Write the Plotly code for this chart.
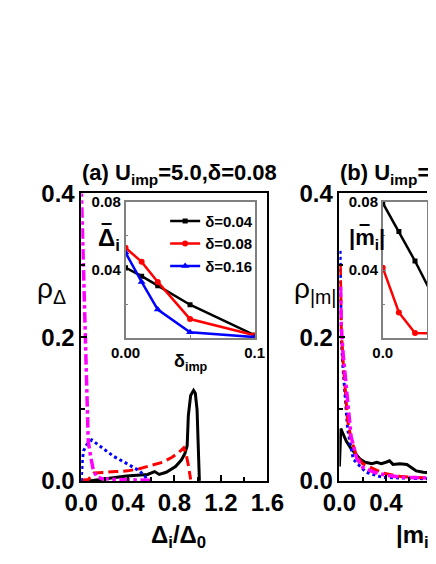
import plotly.graph_objects as go

W, H = 436, 564
FONT = "Liberation Sans, Arial, sans-serif"

# ---- panel (a): distribution of Delta_i/Delta_0 ----
a_black_x = [0.04, 0.07, 0.21, 0.39, 0.57, 0.63, 0.67, 0.73, 0.81, 0.86, 0.89, 0.91, 0.92, 0.94, 0.965, 0.98, 0.995, 1.005, 1.015]
a_black_y = [0.0, 0.0, 0.003, 0.007, 0.009, 0.013, 0.009, 0.012, 0.020, 0.029, 0.038, 0.049, 0.091, 0.119, 0.126, 0.122, 0.099, 0.046, 0.0]

a_red_x = [0.0, 0.06, 0.11, 0.16, 0.2, 0.3, 0.4, 0.5, 0.6, 0.7, 0.78, 0.84, 0.88, 0.9, 0.92, 0.94]
a_red_y = [0.001, 0.002, 0.011, 0.012, 0.012, 0.013, 0.014, 0.017, 0.021, 0.026, 0.033, 0.040, 0.046, 0.038, 0.022, 0.002]

a_blue_x = [0.0, 0.003, 0.01, 0.02, 0.05, 0.09, 0.15, 0.2, 0.28, 0.36, 0.44, 0.5, 0.55, 0.57]
a_blue_y = [0.0, 0.015, 0.030, 0.042, 0.051, 0.057, 0.050, 0.043, 0.034, 0.027, 0.020, 0.014, 0.006, 0.0]

a_mag_x = [0.0, 0.01, 0.02, 0.03, 0.04, 0.05, 0.06, 0.08, 0.1, 0.13, 0.18, 0.3, 0.45, 0.6]
a_mag_y = [0.41, 0.35, 0.28, 0.20, 0.13, 0.08, 0.055, 0.035, 0.018, 0.006, 0.003, 0.002, 0.002, 0.001]

# ---- panel (b): distribution of |m_i| ----
b_black_x = [0.0, 0.012, 0.03, 0.06, 0.1, 0.14, 0.18, 0.22, 0.28, 0.32, 0.36, 0.4, 0.43, 0.46, 0.52, 0.58, 0.62, 0.66, 0.72, 0.8]
b_black_y = [0.02, 0.073, 0.066, 0.055, 0.045, 0.037, 0.030, 0.026, 0.024, 0.026, 0.024, 0.026, 0.028, 0.023, 0.024, 0.023, 0.019, 0.014, 0.012, 0.011]

b_red_x = [0.008, 0.012, 0.016, 0.03, 0.05, 0.07, 0.1, 0.15, 0.2, 0.26, 0.37, 0.53, 0.74, 0.8]
b_red_y = [0.30, 0.26, 0.21, 0.17, 0.126, 0.085, 0.058, 0.034, 0.024, 0.019, 0.011, 0.006, 0.004, 0.004]

b_blue_x = [0.006, 0.01, 0.016, 0.03, 0.05, 0.07, 0.1, 0.12, 0.15, 0.23, 0.37, 0.5, 0.74, 0.8]
b_blue_y = [0.32, 0.28, 0.20, 0.16, 0.118, 0.073, 0.046, 0.030, 0.025, 0.012, 0.005, 0.004, 0.003, 0.003]

b_mag_x = [0.01, 0.015, 0.03, 0.05, 0.07, 0.1, 0.15, 0.2, 0.3, 0.4, 0.55, 0.74, 0.8]
b_mag_y = [0.27, 0.22, 0.18, 0.148, 0.105, 0.062, 0.031, 0.019, 0.012, 0.008, 0.005, 0.004, 0.004]

# ---- insets: mean value vs delta_imp ----
d_imp = [0.0, 0.0125, 0.025, 0.05, 0.1]
gap_d004 = [0.0414, 0.0364, 0.0308, 0.0196, 0.0017]
gap_d008 = [0.0531, 0.0448, 0.0330, 0.0112, 0.0017]
gap_d016 = [0.0503, 0.0330, 0.0168, 0.0034, 0.0006]
mag_d004 = [0.0794, 0.0627, 0.0453, 0.0080, 0.0020]
mag_d008 = [0.0414, 0.0151, 0.0030, 0.0030, 0.0020]

RED_DASH = "10px,5px"

fig = go.Figure()

# main curves, panel (a)
fig.add_trace(go.Scatter(x=a_black_x, y=a_black_y, mode="lines", line=dict(color="black", width=3),
                         showlegend=False, xaxis="x", yaxis="y"))
fig.add_trace(go.Scatter(x=a_red_x, y=a_red_y, mode="lines", line=dict(color="red", width=3, dash=RED_DASH),
                         showlegend=False, xaxis="x", yaxis="y"))
fig.add_trace(go.Scatter(x=a_blue_x, y=a_blue_y, mode="lines", line=dict(color="blue", width=3, dash="dot"),
                         showlegend=False, xaxis="x", yaxis="y"))
fig.add_trace(go.Scatter(x=a_mag_x, y=a_mag_y, mode="lines", line=dict(color="magenta", width=3.5, dash="dashdot"),
                         showlegend=False, xaxis="x", yaxis="y"))

# main curves, panel (b)
fig.add_trace(go.Scatter(x=b_black_x, y=b_black_y, mode="lines", line=dict(color="black", width=3),
                         showlegend=False, xaxis="x2", yaxis="y2"))
fig.add_trace(go.Scatter(x=b_blue_x, y=b_blue_y, mode="lines", line=dict(color="blue", width=3, dash="dot"),
                         showlegend=False, xaxis="x2", yaxis="y2"))
fig.add_trace(go.Scatter(x=b_red_x, y=b_red_y, mode="lines", line=dict(color="red", width=3, dash=RED_DASH),
                         showlegend=False, xaxis="x2", yaxis="y2"))
fig.add_trace(go.Scatter(x=b_mag_x, y=b_mag_y, mode="lines", line=dict(color="magenta", width=3.5, dash="dashdot"),
                         showlegend=False, xaxis="x2", yaxis="y2"))

# inset (a)
fig.add_trace(go.Scatter(x=d_imp, y=gap_d004, mode="lines+markers", name="δ=0.04",
                         line=dict(color="black", width=2.5), marker=dict(symbol="square", size=5, color="black"),
                         xaxis="x3", yaxis="y3"))
fig.add_trace(go.Scatter(x=d_imp, y=gap_d008, mode="lines+markers", name="δ=0.08",
                         line=dict(color="red", width=2.5), marker=dict(symbol="circle", size=6, color="red"),
                         xaxis="x3", yaxis="y3"))
fig.add_trace(go.Scatter(x=d_imp, y=gap_d016, mode="lines+markers", name="δ=0.16",
                         line=dict(color="blue", width=2.5), marker=dict(symbol="triangle-up", size=7, color="blue"),
                         xaxis="x3", yaxis="y3"))

# inset (b)
fig.add_trace(go.Scatter(x=d_imp, y=mag_d004, mode="lines+markers", showlegend=False,
                         line=dict(color="black", width=2.5), marker=dict(symbol="square", size=5, color="black"),
                         xaxis="x4", yaxis="y4"))
fig.add_trace(go.Scatter(x=d_imp, y=mag_d008, mode="lines+markers", showlegend=False,
                         line=dict(color="red", width=2.5), marker=dict(symbol="circle", size=6, color="red"),
                         xaxis="x4", yaxis="y4"))


def px_x(p):
    return p / W


def px_y(p):
    return 1 - p / H


tick_big = dict(family=FONT, size=24, color="black", weight="bold")
tick_small = dict(family=FONT, size=15, color="black", weight="bold")

main_common = dict(showline=True, linecolor="black", linewidth=1.5, ticks="inside", ticklen=6,
                   tickwidth=1.5, tickcolor="black", showgrid=False, zeroline=False, tickfont=tick_big)
inset_common = dict(showline=True, linecolor="#808080", linewidth=1.5, mirror=True, ticks="inside",
                    ticklen=4, tickwidth=1.2, tickcolor="#808080", showgrid=False, zeroline=False,
                    tickfont=tick_small)

ymain = [px_y(482), px_y(180)]
yinset = [px_y(332), px_y(189)]

fig.update_layout(
    width=W, height=H, autosize=False,
    margin=dict(l=0, r=0, t=0, b=0),
    paper_bgcolor="white", plot_bgcolor="white",
    font=dict(family=FONT, color="black"),
    xaxis=dict(domain=[px_x(61), px_x(263)], range=[0, 1.6], anchor="y", mirror=True,
               tickvals=[0, 0.4, 0.8, 1.2, 1.6], ticktext=["0.0", "0.4", "0.8", "1.2", "1.6"],
               minor=dict(tickvals=[0.2, 0.6, 1.0, 1.4], ticks="inside", ticklen=4, tickcolor="black"),
               **main_common),
    yaxis=dict(domain=ymain, range=[0, 0.4], anchor="x", mirror=True,
               tickvals=[0, 0.2, 0.4], ticktext=["0.0", "0.2", "0.4"],
               minor=dict(tickvals=[0.1, 0.3], ticks="inside", ticklen=4, tickcolor="black"),
               **main_common),
    xaxis2=dict(domain=[px_x(341), 1.0], range=[0, (W - 341) / 126.25], anchor="y2", mirror=True,
                tickvals=[0, 0.4], ticktext=["0.0", "0.4"],
                minor=dict(tickvals=[0.2, 0.6], ticks="inside", ticklen=4, tickcolor="black"),
                **main_common),
    yaxis2=dict(domain=ymain, range=[0, 0.4], anchor="x2", mirror=False,
                tickvals=[0, 0.2, 0.4], ticktext=["0.0", "0.2", "0.4"],
                minor=dict(tickvals=[0.1, 0.3], ticks="inside", ticklen=4, tickcolor="black"),
                **main_common),
    xaxis3=dict(domain=[px_x(109), px_x(249)], range=[0, 0.1], anchor="y3",
                tickvals=[0, 0.1], ticktext=["0.00", "0.1"],
                minor=dict(tickvals=[0.05], ticks="inside", ticklen=3, tickcolor="#808080"),
                **inset_common),
    yaxis3=dict(domain=yinset, range=[0, 0.08], anchor="x3",
                tickvals=[0.04, 0.08], ticktext=["0.04", "0.08"],
                minor=dict(tickvals=[0.02, 0.06], ticks="inside", ticklen=3, tickcolor="#808080"),
                **inset_common),
    xaxis4=dict(domain=[px_x(388), 1.0], range=[0, (W - 388) / 1400], anchor="y4",
                tickvals=[0], ticktext=["0.0"],
                **inset_common),
    yaxis4=dict(domain=yinset, range=[0, 0.08], anchor="x4",
                tickvals=[0.04, 0.08], ticktext=["0.04", "0.08"],
                minor=dict(tickvals=[0.02, 0.06], ticks="inside", ticklen=3, tickcolor="#808080"),
                **inset_common),
    legend=dict(x=px_x(152), y=px_y(192), xanchor="left", yanchor="top",
                bgcolor="rgba(0,0,0,0)", font=dict(family=FONT, size=15, color="black", weight="bold"),
                tracegroupgap=0, itemwidth=30),
)

title_font = dict(family=FONT, size=22, color="black", weight="bold")
label_font = dict(family=FONT, size=24, color="black", weight="bold")
inset_label_font = dict(family=FONT, size=18, color="black", weight="bold")
bar_font = dict(family=FONT, size=20, color="black", weight="bold")

ann = [
    dict(text="(a) U<sub>imp</sub>=5.0,δ=0.08", x=px_x(60), y=px_y(160), xanchor="left", font=title_font),
    dict(text="(b) U<sub>imp</sub>=5.0,δ=0.08", x=px_x(340), y=px_y(160), xanchor="left", font=title_font),
    dict(text="ρ<sub>Δ</sub>", x=px_x(29), y=px_y(282), font=dict(family=FONT, size=28, color="black")),
    dict(text="ρ<sub>|m|</sub>", x=px_x(314), y=px_y(282), font=dict(family=FONT, size=28, color="black")),
    dict(text="Δ<sub>i</sub>/Δ<sub>0</sub>", x=px_x(166), y=px_y(540), font=label_font),
    dict(text="|m<sub>i</sub>|/m<sub>0</sub>", x=px_x(400), y=px_y(540), xanchor="left", font=label_font),
    # inset axis labels: Δ̄_i and |m̄_i| drawn as letter + overbar
    dict(text="Δ<sub>i</sub>", x=px_x(91), y=px_y(228), font=dict(family=FONT, size=24, color="black", weight="bold")),
    dict(text="–", x=px_x(88), y=px_y(210), font=bar_font),
    dict(text="|m<sub>i</sub>|", x=px_x(371), y=px_y(228), font=dict(family=FONT, size=22, color="black", weight="bold")),
    dict(text="–", x=px_x(368), y=px_y(211), font=bar_font),
    dict(text="δ<sub>imp</sub>", x=px_x(180), y=px_y(358), font=inset_label_font),
    dict(text="0.8", xref="x2", x=0.8, y=px_y(503), font=tick_big),
]
for a in ann:
    a.setdefault("xref", "paper")
    a.setdefault("yref", "paper")
    a.setdefault("xanchor", "center")
    a.setdefault("yanchor", "middle")
    a["showarrow"] = False
    fig.add_annotation(**a)

fig.write_html("out.html")
